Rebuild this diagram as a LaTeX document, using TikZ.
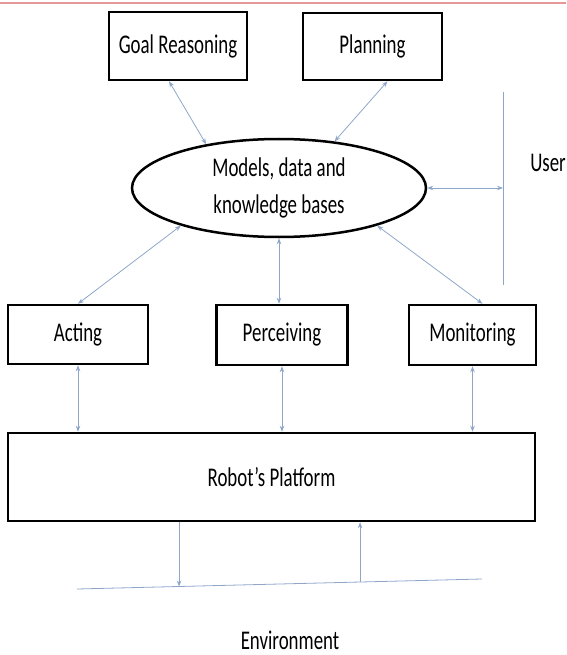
\documentclass[tikz,border=0pt]{standalone}
\usepackage{fontspec}
\setmainfont[FakeStretch=0.7]{Carlito}
\usepackage{tikz}
\usetikzlibrary{arrows.meta}
\usetikzlibrary{positioning}
\usetikzlibrary{shapes}
\usetikzlibrary{calc}
\definecolor{lienbleu}{RGB}{143,166,201}
\definecolor{rougepale}{RGB}{228,152,152}
\tikzset{
  bloc/.style = {draw=black, line width=2.5pt, inner sep=0pt, align=center,
    font=\fontsize{27}{37}\selectfont},% boite noire
  bloc_e/.style = {bloc, ellipse},% base de connaissances
  etiq/.style = {inner sep=0pt, font=\fontsize{27}{37}\selectfont},% texte libre
  lien/.style = {draw=lienbleu, line width=0.8pt}% fleche bleue
}

\begin{document}
\begin{tikzpicture}[x=1pt,y=-1pt,>={Stealth[length=6pt,width=4.5pt]}]
\useasboundingbox (0,0) rectangle (566,655);
\draw [rougepale, line width=2pt] (0,3) -- (566,3);

\node [bloc, minimum width=138, minimum height=68] (goal) at (178,46) {Goal Reasoning};
\node [bloc, minimum width=139, minimum height=67] (plan) at (372.5,46.5) {Planning};
\node [bloc_e, minimum width=294, minimum height=98] (models) at (279,188)
  {Models, data and\\knowledge bases};
\node [bloc, minimum width=140, minimum height=59] (acting) at (78,334.5) {Acting};
\node [bloc, minimum width=131, minimum height=60] (perc) at (282,335) {Perceiving};
\node [bloc, minimum width=127, minimum height=60] (monit) at (472.5,335) {Monitoring};
\node [bloc, minimum width=527, minimum height=88] (platform) at (271.5,477) {Robot’s Platform};
\node [etiq] (user) at (548,163) {User};
\node [etiq] (env) at (290,640) {Environment};

\coordinate (userT) at (503,92);
\coordinate (userB) at (503,285);
\coordinate (envL) at (77,589);
\coordinate (envR) at (482,579);
\coordinate (envA) at ($(envL)!0.252!(envR)$);
\coordinate (envB) at ($(envL)!0.699!(envR)$);

\draw [lien,<->] ([xshift=-9pt]goal.south) -- (models.149);
\draw [lien,<->] ([xshift=15pt]plan.south) -- (models.40);
\draw [lien] (userT) -- (userB);
\draw [lien,<->] (models.east) -- (models.east -| userT);
\draw [lien,<->] (models.201) -- (acting.north);
\draw [lien,<->] (models.south) -- (models.south |- perc.north);
\draw [lien,<->] (models.339) -- ([xshift=10pt]monit.north);
\draw [lien,<->] (acting.south) -- (acting.south |- platform.north);
\draw [lien,<->] (perc.south) -- (perc.south |- platform.north);
\draw [lien,<->] (monit.south) -- (monit.south |- platform.north);
\draw [lien] (envL) -- (envR);
\draw [lien,->] (platform.south -| envA) -- (envA);
\draw [lien,->] (envB) -- (platform.south -| envB);
\end{tikzpicture}
\end{document}
